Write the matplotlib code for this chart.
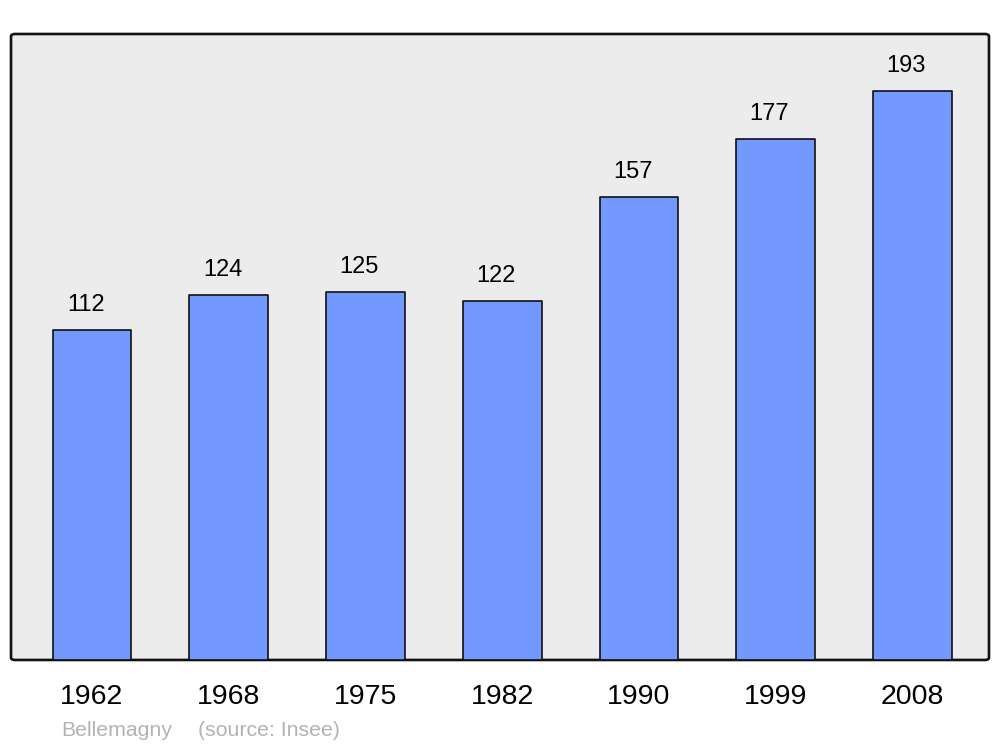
import matplotlib

matplotlib.use("Agg")

import matplotlib.pyplot as plt
from matplotlib.patches import FancyBboxPatch

years = ["1962", "1968", "1975", "1982", "1990", "1999", "2008"]
population = [112, 124, 125, 122, 157, 177, 193]
commune = "Bellemagny"
source = "(source: Insee)"

plt.rcParams["font.family"] = ["Liberation Sans", "DejaVu Sans"]

fig = plt.figure(figsize=(10, 7.47), dpi=100)
ax = fig.add_axes([0.011, 0.1165, 0.978, 0.838])
ax.set_facecolor("none")

# rounded background frame
frame = FancyBboxPatch((0, 0), 1, 1, boxstyle="round,pad=0,rounding_size=0.004",
                       transform=ax.transAxes, facecolor="#ececec",
                       edgecolor="#111111", linewidth=1.9, zorder=0, clip_on=False)
ax.add_patch(frame)

x = list(range(len(years)))
bars = ax.bar(x, population, width=0.575, color="#7399ff", edgecolor="#111111",
              linewidth=1.2, zorder=2)
for b in bars:
    b.set_joinstyle("round")

for xi, val in zip(x, population):
    ax.annotate(str(val), (xi, val), xytext=(-4.5, 18), textcoords="offset points",
                ha="center", va="center", fontsize=17, color="black")

ax.set_xlim(-0.592, 6.559)
ax.set_ylim(0, 212.5)
for s in ax.spines.values():
    s.set_visible(False)
ax.set_yticks([])
ax.set_xticks(x)
ax.set_xticklabels(years, fontsize=20.5)
ax.tick_params(axis="x", length=0, pad=17.5)

fig.text(0.061, 0.009, commune, fontsize=15.3, color="#b3b3b3", ha="left", va="bottom")
fig.text(0.198, 0.009, source, fontsize=15.3, color="#b3b3b3", ha="left", va="bottom")

fig.savefig("out.png", dpi=100)
